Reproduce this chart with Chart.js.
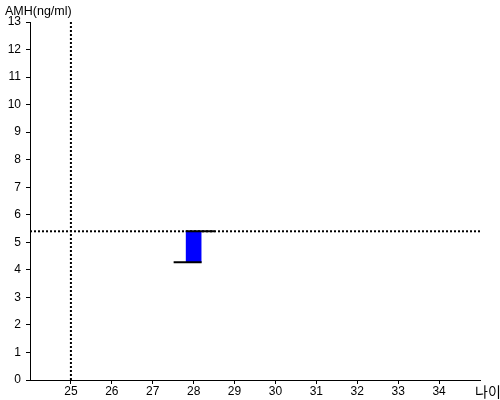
<!DOCTYPE html>
<html>
<head>
<meta charset="utf-8">
<script src="https://cdn.jsdelivr.net/npm/chart.js@4/dist/chart.umd.min.js"></script>
<style>
html,body{margin:0;padding:0;background:#fff;}
#wrap{width:500px;height:400px;}
</style>
</head>
<body>
<div id="wrap"><canvas id="c" width="500" height="400"></canvas></div>
<script>
// ---- data ----
const ages = [28];
const openVals = [4.28];
const closeVals = [5.4];
const refAge = 25;
const refAMH = 5.4;
const xTickLabels = [25, 26, 27, 28, 29, 30, 31, 32, 33, 34];
const xRange = [24, 35];
const yRange = [0, 13];
const yLabel = 'AMH(ng/ml)';
const xLabel = '나이';

const barData = ages.map((a, i) => ({x: a, y: [openVals[i], closeVals[i]]}));

const ohlcTicks = {
  id: 'ohlcTicks',
  afterDatasetsDraw(chart) {
    const ctx = chart.ctx, xs = chart.scales.x, ys = chart.scales.y;
    ctx.save();
    ctx.strokeStyle = '#000';
    ctx.lineWidth = 2;
    ages.forEach((a, i) => {
      const cx = xs.getPixelForValue(a);
      const yo = ys.getPixelForValue(openVals[i]);
      const yc = ys.getPixelForValue(closeVals[i]);
      ctx.beginPath();
      ctx.moveTo(cx - 20, yo); ctx.lineTo(cx + 8, yo);
      ctx.moveTo(cx - 8, yc); ctx.lineTo(cx + 21, yc);
      ctx.stroke();
    });
    ctx.restore();
  }
};

const labels = {
  id: 'labels',
  afterDraw(chart) {
    const ctx = chart.ctx;
    ctx.save();
    ctx.fillStyle = '#000';
    ctx.textAlign = 'left';
    ctx.textBaseline = 'alphabetic';
    ctx.font = '12.5px "Liberation Sans", Arial, sans-serif';
    ctx.fillText(yLabel, 5, 15);
    ctx.font = '14px "Noto Sans CJK KR", sans-serif';
    ctx.textBaseline = 'middle';
    ctx.fillText(xLabel, chart.chartArea.right - 5, 392);
    ctx.restore();
  }
};

new Chart(document.getElementById('c'), {
  type: 'bar',
  data: {
    datasets: [
      {
        type: 'bar',
        data: barData,
        backgroundColor: '#0000ff',
        borderWidth: 0,
        barThickness: 15,
        order: 2
      },
      {
        type: 'line',
        data: [{x: refAge, y: yRange[0]}, {x: refAge, y: yRange[1]}],
        borderColor: '#000',
        borderWidth: 2,
        borderDash: [2, 2],
        pointRadius: 0,
        order: 3
      },
      {
        type: 'line',
        data: [{x: xRange[0], y: refAMH}, {x: xRange[1], y: refAMH}],
        borderColor: '#000',
        borderWidth: 2,
        borderDash: [2, 2],
        pointRadius: 0,
        order: 3
      }
    ]
  },
  options: {
    responsive: false,
    animation: false,
    events: [],
    layout: {padding: {top: 22, right: 20, bottom: 0, left: 0}},
    plugins: {legend: {display: false}, tooltip: {enabled: false}, title: {display: false}},
    scales: {
      x: {
        type: 'linear',
        offset: false,
        min: xRange[0], max: xRange[1],
        afterFit(s) { s.height = 20; },
        grid: {
          offset: false, drawOnChartArea: false, drawTicks: true, tickLength: 4,
          color: (c) => (c.tick && xTickLabels.includes(c.tick.value)) ? '#000' : 'rgba(0,0,0,0)'
        },
        border: {display: true, color: '#000', width: 1},
        ticks: {
          stepSize: 1,
          autoSkip: false,
          maxRotation: 0,
          padding: 0,
          color: '#000',
          font: {family: '"Liberation Sans", Arial, sans-serif', size: 12},
          callback: (v) => xTickLabels.includes(v) ? String(v) : ''
        }
      },
      y: {
        type: 'linear',
        min: yRange[0], max: yRange[1],
        afterFit(s) { s.width = 30; },
        grid: {drawOnChartArea: false, drawTicks: true, tickLength: 4, color: '#000'},
        border: {display: true, color: '#000', width: 1},
        ticks: {
          stepSize: 1,
          padding: 5,
          color: '#000',
          font: {family: '"Liberation Sans", Arial, sans-serif', size: 12}
        }
      }
    }
  },
  plugins: [ohlcTicks, labels]
});
</script>
</body>
</html>
